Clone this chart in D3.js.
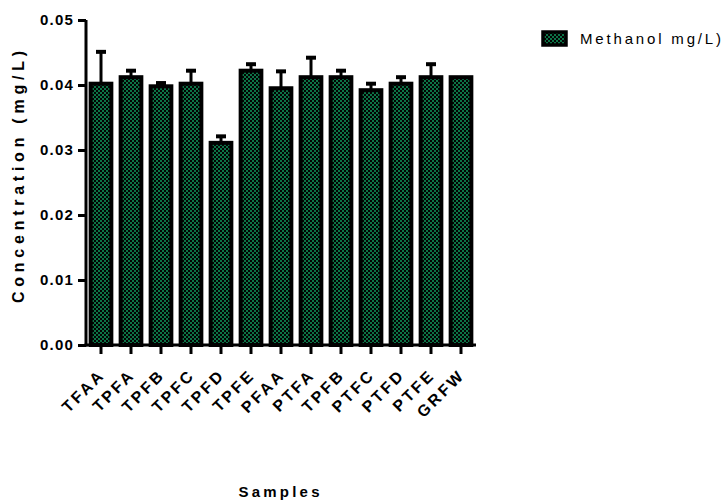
<!DOCTYPE html>
<html><head><meta charset="utf-8">
<script src="https://cdn.jsdelivr.net/npm/d3@7"></script>
<style>body{margin:0;background:#fff}svg{display:block}text{font-family:"Liberation Sans",Arial,sans-serif}</style>
</head><body>
<svg id="c" width="724" height="503"></svg>
<script>
const categories = ["TFAA","TPFA","TPFB","TPFC","TPFD","TPFE","PFAA","PTFA","TPFB ","PTFC","PTFD","PTFE","GRFW"];
const means = [0.0402,0.0412,0.0398,0.0402,0.0311,0.0422,0.0395,0.0412,0.0412,0.0392,0.0402,0.0412,0.0412];
const errors = [0.0049,0.0010,0.0005,0.0020,0.0010,0.0010,0.0026,0.0030,0.0010,0.0010,0.0010,0.0020,0];
const yTicks = [0,0.01,0.02,0.03,0.04,0.05];
const seriesName = "Methanol mg/L)";

const svg = d3.select("#c");
const defs = svg.append("defs");
const pat = defs.append("pattern").attr("id","chk").attr("patternUnits","userSpaceOnUse")
  .attr("width",4).attr("height",4);
pat.append("rect").attr("width",4).attr("height",4).attr("fill","#030303");
pat.append("rect").attr("x",0).attr("y",0).attr("width",2).attr("height",2).attr("fill","#0c7446");
pat.append("rect").attr("x",2).attr("y",2).attr("width",2).attr("height",2).attr("fill","#0c7446");

const x = d3.scaleBand().domain(categories).range([86,476]).paddingInner(0.31).paddingOuter(0.155);
const y = d3.scaleLinear().domain([0,0.05]).range([345,20]);

// bars
svg.append("g").selectAll("rect").data(categories).join("rect")
  .attr("x",d=>x(d)).attr("width",x.bandwidth())
  .attr("y",(d,i)=>y(means[i])).attr("height",(d,i)=>y(0)-y(means[i]))
  .attr("fill","url(#chk)").attr("stroke","#000").attr("stroke-width",4);

// error bars
const eg = svg.append("g");
categories.forEach((c,i)=>{
  if(!errors[i]) return;
  const cx = x(c)+x.bandwidth()/2;
  eg.append("line").attr("x1",cx).attr("x2",cx).attr("y1",y(means[i])).attr("y2",y(means[i]+errors[i]))
    .attr("stroke","#000").attr("stroke-width",3);
  eg.append("line").attr("x1",cx-5).attr("x2",cx+5).attr("y1",y(means[i]+errors[i])).attr("y2",y(means[i]+errors[i]))
    .attr("stroke","#000").attr("stroke-width",4);
});

// y axis
const ya = svg.append("g").attr("transform","translate(86,0)")
  .call(d3.axisLeft(y).tickValues(yTicks).tickFormat(d3.format(".2f")).tickSize(8).tickPadding(4));
ya.select(".domain").attr("stroke","#000").attr("stroke-width",3).attr("d","M0,20V346.5");
ya.selectAll(".tick line").attr("stroke-width",3);
ya.selectAll(".tick text").attr("font-size",15).attr("font-weight","bold").attr("fill","#000")
  .style("letter-spacing","1.2px").attr("font-family","'Liberation Sans',Arial,sans-serif");

// x axis
const xa = svg.append("g").attr("transform","translate(0,345)")
  .call(d3.axisBottom(x).tickSize(9).tickPadding(4));
xa.select(".domain").attr("stroke","#000").attr("stroke-width",3).attr("d","M84.5,0H476");
xa.selectAll(".tick line").attr("stroke-width",3);
xa.selectAll(".tick text").attr("font-size",16).attr("font-weight","bold").attr("fill","#000")
  .attr("font-family","'Liberation Sans',Arial,sans-serif")
  .style("letter-spacing","2.8px")
  .attr("text-anchor","end").attr("dy","0.35em")
  .attr("transform","translate(1,27) rotate(-45)").attr("y",0).attr("x",0);

// y title
svg.append("text").attr("transform","translate(24,177) rotate(-90)")
  .attr("text-anchor","middle").attr("font-size",16).attr("font-weight","bold")
  .attr("textLength",252).attr("lengthAdjust","spacing")
  .text("Concentration (mg/L)");

// x title
svg.append("text").attr("x",279).attr("y",497).attr("text-anchor","middle")
  .attr("font-size",15).attr("font-weight","bold")
  .attr("textLength",81).attr("lengthAdjust","spacing").text("Samples");

// legend
svg.append("rect").attr("x",543).attr("y",32).attr("width",23).attr("height",13)
  .attr("fill","url(#chk)").attr("stroke","#000").attr("stroke-width",3.5);
svg.append("text").attr("x",580).attr("y",44).attr("font-size",15)
  .attr("textLength",141).attr("lengthAdjust","spacing").text(seriesName);
</script>
</body></html>
